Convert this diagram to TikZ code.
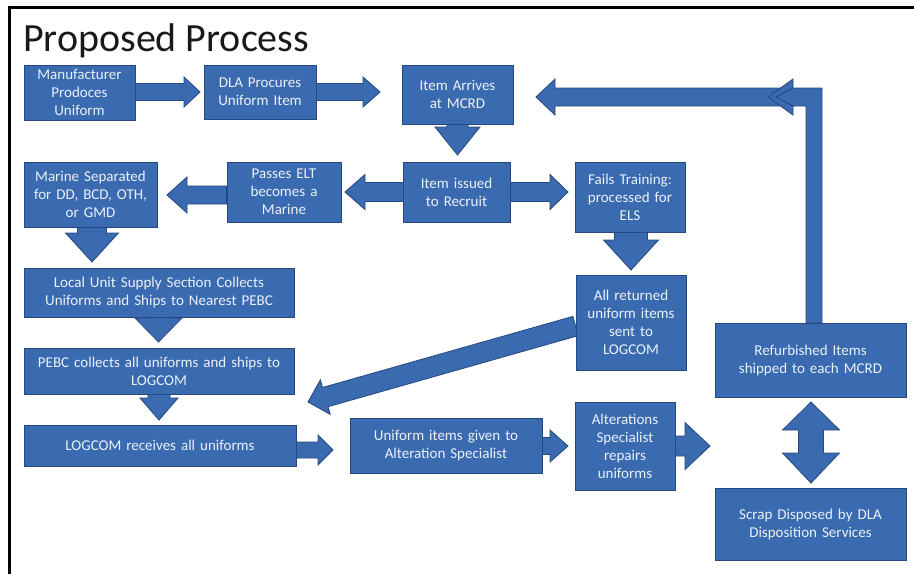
\documentclass[tikz,border=0pt]{standalone}
\usepackage{fontspec}
\setmainfont{Carlito}
\usetikzlibrary{calc}
\definecolor{boxblue}{RGB}{58,106,176}
\definecolor{boxedge}{RGB}{38,72,128}
\definecolor{boxtext}{RGB}{236,241,248}
\pgfdeclarelayer{bg}
\pgfsetlayers{bg,main}
\tikzset{
  box/.style={fill=boxblue, draw=boxedge, line width=0.8pt, text=boxtext, align=center,
    inner sep=1pt, font=\fontsize{15}{18}\selectfont},
  arrowsty/.style={fill=boxblue, draw=boxedge, line width=0.8pt, line join=miter},
  frame/.style={draw=black, line width=3pt}
}
% single block arrow: start, tip, shaft half width, head half width, head length
\newcommand{\barrow}[5]{%
  \coordinate (bh) at ($(#2)!#5!(#1)$);
  \filldraw[arrowsty] ($(#1)!#3!90:(#2)$) -- ($(bh)!#3!90:(#2)$) -- ($(bh)!#4!90:(#2)$) -- (#2)
    -- ($(bh)!#4!-90:(#2)$) -- ($(bh)!#3!-90:(#2)$) -- ($(#1)!#3!-90:(#2)$) -- cycle;}
% double block arrow: tip1, tip2, shaft half, head half, head length 1, head length 2
\newcommand{\dbarrow}[6]{%
  \coordinate (bh) at ($(#2)!#6!(#1)$);
  \coordinate (bt) at ($(#1)!#5!(#2)$);
  \filldraw[arrowsty] (#1) -- ($(bt)!#4!90:(#2)$) -- ($(bt)!#3!90:(#2)$) -- ($(bh)!#3!90:(#2)$)
    -- ($(bh)!#4!90:(#2)$) -- (#2) -- ($(bh)!#4!-90:(#2)$) -- ($(bh)!#3!-90:(#2)$)
    -- ($(bt)!#3!-90:(#2)$) -- ($(bt)!#4!-90:(#2)$) -- cycle;}
% box from corner (x1,y1) to (x2,y2)
\newcommand{\bx}[6]{%
  \node[box, minimum width={(#4-#2)*1pt}, minimum height={(#5-#3)*1pt}, text width={(#4-#2-4)*1pt}]
    (#1) at ({(#2+#4)/2},{(#3+#5)/2}) {#6};}
\begin{document}
\begin{tikzpicture}[x=1pt,y=-1pt]
\useasboundingbox (0,0) rectangle (914,574);
\coordinate (fb) at (9,574);
\coordinate (fc) at (9,7.5);
\coordinate (fr) at (914,7.5);
\draw[frame] (fb) -- (fc) -- (fr);

\node[anchor=base west, font=\fontsize{40}{44}\selectfont, text=black!90, inner sep=0] (title) at (23,51) {Proposed Process};

\bx{manu}{24}{65}{135}{120}{Manufacturer\\Prodoces\\Uniform}
\bx{dla}{204}{65}{316}{119}{DLA Procures\\Uniform Item}
\bx{arrive}{402}{65}{513}{124}{Item Arrives\\at MCRD}
\bx{issued}{403}{162}{510}{222}{Item issued\\to Recruit}
\bx{passes}{227}{162}{341}{222}{Passes ELT\\becomes a\\Marine}
\bx{marine}{24}{162}{157}{227}{Marine Separated\\for DD, BCD, OTH,\\or GMD}
\bx{fails}{575}{162}{685}{232}{Fails Training:\\processed for\\ELS}
\bx{allret}{576}{275}{686}{370}{All returned\\uniform items\\sent to\\LOGCOM}
\bx{local}{24}{268}{294}{317}{Local Unit Supply Section Collects\\Uniforms and Ships to Nearest PEBC}
\bx{pebc}{24}{348}{294}{394}{PEBC collects all uniforms and ships to\\LOGCOM}
\bx{logrec}{24}{425}{296}{466}{LOGCOM receives all uniforms}
\bx{given}{350}{418}{542}{473}{Uniform items given to\\Alteration Specialist}
\bx{alter}{575}{402}{675}{490}{Alterations\\Specialist\\repairs\\uniforms}
\bx{refurb}{715}{323}{906}{397}{Refurbished Items\\shipped to each MCRD}
\bx{scrap}{715}{488}{906}{560}{Scrap Disposed by DLA\\Disposition Services}

% connector end points
\coordinate (a1s) at (manu.east |- 0,92);
\coordinate (a1e) at (200,92);
\coordinate (a2s) at (dla.east |- 0,92);
\coordinate (a2e) at (380,92);
\coordinate (a3s) at (457.5,124);
\coordinate (a3e) at (457.5,155);
\coordinate (e1) at (345,192);
\coordinate (e2) at (568,192);
\coordinate (f1) at (passes.west |- 0,195);
\coordinate (f2) at (167,195);
\coordinate (g1) at (92,227);
\coordinate (g2) at (92,262);
\coordinate (h1) at (158.5,317);
\coordinate (h2) at (158.5,342);
\coordinate (i1) at (159,394);
\coordinate (i2) at (159,420);
\coordinate (j1) at (logrec.east |- 0,450);
\coordinate (j2) at (333,450);
\coordinate (k1) at (given.east |- 0,446);
\coordinate (k2) at (568,446);
\coordinate (l1) at (alter.east |- 0,446);
\coordinate (l2) at (710,446);
\coordinate (m1) at (811,402);
\coordinate (m2) at (811,483);
\coordinate (n1) at (631,232);
\coordinate (n2) at (631,270);
\coordinate (o1) at (allret.west |- 0,326);
\coordinate (o2) at (308,402);
\coordinate (r1) at (814,323);
\coordinate (r2) at (814,97);
\coordinate (r3) at (536,97);

\begin{pgfonlayer}{bg}
\fill[white] (0,0) rectangle (914,574);
\barrow{a1s}{a1e}{8.5pt}{15pt}{16pt}
\barrow{a2s}{a2e}{8.5pt}{15pt}{17pt}
\barrow{a3s}{a3e}{10.5pt}{22.5pt}{28pt}
\dbarrow{e1}{e2}{9.5pt}{17.5pt}{20pt}{18pt}
\barrow{f1}{f2}{9pt}{18pt}{20pt}
\barrow{g1}{g2}{14.5pt}{26.5pt}{29pt}
\barrow{h1}{h2}{11.5pt}{23.5pt}{24pt}
\barrow{i1}{i2}{11pt}{19pt}{22pt}
\barrow{j1}{j2}{8pt}{15pt}{15pt}
\barrow{k1}{k2}{8.5pt}{16pt}{18pt}
\barrow{l1}{l2}{10pt}{23.5pt}{25pt}
\dbarrow{m1}{m2}{12.5pt}{28.5pt}{28pt}{30pt}
\barrow{n1}{n2}{16.5pt}{27.5pt}{30pt}
\barrow{o1}{o2}{10pt}{18pt}{18pt}
% bent return connector
\filldraw[arrowsty] ($(r1)+(-8,0)$) -- ($(r2)+(-8,9)$) -- ($(r3)+(19,9)$) -- ($(r3)+(19,18)$) -- (r3)
  -- ($(r3)+(19,-18)$) -- ($(r3)+(19,-9)$) -- ($(r2)+(8,-9)$) -- ($(r1)+(8,0)$) -- cycle;
\coordinate (ph) at (768,97);
\filldraw[arrowsty] ($(ph)+(25,-18)$) -- (ph) -- ($(ph)+(25,18)$) -- ($(ph)+(25,9)$) -- ($(ph)+(8,0)$) -- ($(ph)+(25,-9)$) -- cycle;
\end{pgfonlayer}
\end{tikzpicture}
\end{document}
